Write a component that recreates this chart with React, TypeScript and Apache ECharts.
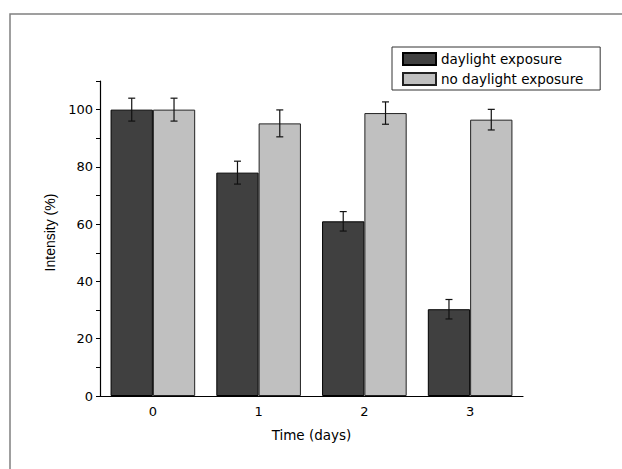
import React, { useEffect, useRef } from "react";
import * as echarts from "echarts";

const categories = ["0", "1", "2", "3"];
const daylight = [100, 78, 61, 30.3];
const daylightErr = [4, 4, 3.4, 3.4];
const noDaylight = [100, 95.2, 98.8, 96.5];
const noDaylightErr = [4, 4.7, 3.9, 3.6];
const seriesNames = ["daylight exposure", "no daylight exposure"];

export default function App() {
  const ref = useRef<HTMLDivElement>(null);
  useEffect(() => {
    if (!ref.current) return;
    const chart = echarts.init(ref.current, null, { renderer: "svg" });
    const errData = (vals: number[], errs: number[], side: number) =>
      vals.map((v, i) => [i, v, errs[i], side]);
    const renderErr = (params: any, api: any) => {
      const idx = api.value(0);
      const val = api.value(1);
      const err = api.value(2);
      const side = api.value(3);
      const catW = api.size([1, 0])[0];
      const c = api.coord([idx, val]);
      const x = c[0] + side * 0.2 * catW;
      const top = api.coord([idx, val + err])[1];
      const bot = api.coord([idx, val - err])[1];
      const hw = 3.5;
      const style = { stroke: "#111", lineWidth: 1.2 };
      return {
        type: "group",
        children: [
          { type: "line", shape: { x1: x, y1: top, x2: x, y2: bot }, style },
          { type: "line", shape: { x1: x - hw, y1: top, x2: x + hw, y2: top }, style },
          { type: "line", shape: { x1: x - hw, y1: bot, x2: x + hw, y2: bot }, style },
        ],
      };
    };
    const wide = "DejaVu Sans, Verdana, sans-serif";
    chart.setOption({
      animation: false,
      textStyle: { fontFamily: wide },
      graphic: [
        {
          type: "rect",
          shape: { x: 10, y: 14, width: 700, height: 600 },
          style: { fill: "none", stroke: "#808080", lineWidth: 1.5 },
          silent: true,
        },
      ],
      legend: {
        data: seriesNames,
        left: 392,
        top: 47,
        orient: "vertical",
        icon: "rect",
        itemWidth: 33,
        itemHeight: 12,
        itemGap: 6,
        padding: [5, 17, 4, 10],
        borderColor: "#333",
        borderWidth: 1,
        textStyle: { fontSize: 13.5, color: "#000", fontFamily: wide },
        selectedMode: false,
      },
      grid: { left: 100, right: 99, top: 81, bottom: 73 },
      xAxis: [
        {
          type: "category",
          data: categories,
          position: "bottom",
          name: "Time (days)",
          nameLocation: "middle",
          nameGap: 32,
          nameTextStyle: { fontSize: 13.5, color: "#000", fontFamily: wide },
          axisLine: { lineStyle: { color: "#000", width: 1.2 } },
          axisTick: { alignWithLabel: true, length: 4, lineStyle: { color: "#000" } },
          axisLabel: { fontSize: 13, color: "#000", margin: 9, fontFamily: wide },
        },
        {
          type: "category",
          data: categories,
          position: "bottom",
          axisLine: { show: false },
          axisTick: { length: 3, lineStyle: { color: "#000" } },
          axisLabel: { show: false },
        },
      ],
      yAxis: {
        type: "value",
        min: 0,
        max: 110,
        interval: 10,
        name: "Intensity (%)",
        nameLocation: "middle",
        nameGap: 40,
        nameTextStyle: {
          fontSize: 14,
          color: "#000",
          fontFamily: "Liberation Sans, Arial, sans-serif",
          padding: [0, 0, 0, 12],
        },
        axisLine: { show: true, lineStyle: { color: "#000", width: 1.2 } },
        axisTick: { show: true, length: 4, lineStyle: { color: "#000" } },
        axisLabel: {
          fontSize: 13,
          color: "#000",
          margin: 7,
          fontFamily: wide,
          formatter: (v: number) => (v % 20 === 0 && v <= 100 ? String(v) : ""),
        },
        splitLine: { show: false },
      },
      series: [
        {
          name: seriesNames[0],
          type: "bar",
          data: daylight,
          barGap: "0%",
          barCategoryGap: "20%",
          itemStyle: { color: "#404040", borderColor: "#000", borderWidth: 1 },
        },
        {
          name: seriesNames[1],
          type: "bar",
          data: noDaylight,
          barGap: "0%",
          barCategoryGap: "20%",
          itemStyle: { color: "#c0c0c0", borderColor: "#222", borderWidth: 1 },
        },
        {
          name: "err1",
          type: "custom",
          renderItem: renderErr,
          data: errData(daylight, daylightErr, -1),
          z: 10,
        },
        {
          name: "err2",
          type: "custom",
          renderItem: renderErr,
          data: errData(noDaylight, noDaylightErr, 1),
          z: 10,
        },
      ],
    });
    return () => chart.dispose();
  }, []);
  return (
    <div
      ref={ref}
      style={{ position: "absolute", left: 0, top: 0, width: 622, height: 469, background: "#fff" }}
    />
  );
}
